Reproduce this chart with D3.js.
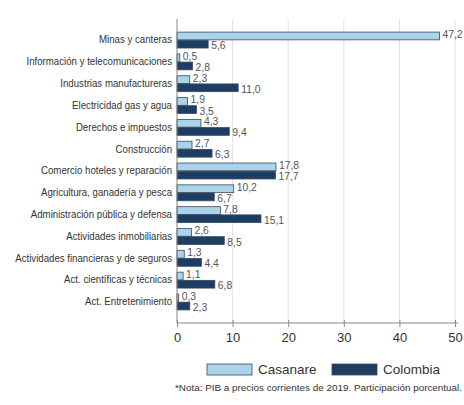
<!DOCTYPE html>
<html><head><meta charset="utf-8">
<script src="https://cdn.jsdelivr.net/npm/d3@7/dist/d3.min.js"></script>
<style>
body{margin:0;background:#fff;}
text{font-family:"Liberation Sans",Arial,sans-serif;}
</style></head>
<body><svg id="c" width="464" height="405"></svg>
<script>
const categories = ["Minas y canteras","Información y telecomunicaciones","Industrias manufactureras","Electricidad gas y agua","Derechos e impuestos","Construcción","Comercio hoteles y reparación","Agricultura, ganadería y pesca","Administración pública y defensa","Actividades inmobiliarias","Actividades financieras y de seguros","Act. científicas y técnicas","Act. Entretenimiento"];
const casanare = [47.2,0.5,2.3,1.9,4.3,2.7,17.8,10.2,7.8,2.6,1.3,1.1,0.3];
const colombia = [5.6,2.8,11.0,3.5,9.4,6.3,17.7,6.7,15.1,8.5,4.4,6.8,2.3];
const xTicks = [0,10,20,30,40,50];
const seriesNames = ["Casanare","Colombia"];
const colors = ["#a9d4ea","#1e3d63"];

const svg = d3.select("#c");
const x = d3.scaleLinear().domain([0,50]).range([177,455]);
const y = d3.scaleBand().domain(categories).range([19,323]).paddingInner(0.27).paddingOuter(0.6);
const sub = d3.scaleBand().domain(seriesNames).range([0,y.bandwidth()]).paddingInner(0.05);

function condense(sel, f){
  sel.each(function(){
    const w = this.getComputedTextLength();
    d3.select(this).attr("textLength", w*f).attr("lengthAdjust","spacingAndGlyphs");
  });
}

// gridlines
svg.append("g").selectAll("line").data(xTicks.slice(1)).join("line")
  .attr("x1",d=>x(d)).attr("x2",d=>x(d)).attr("y1",19).attr("y2",323)
  .attr("stroke","#e4e4e4").attr("stroke-width",1);

const fmt = v => v.toFixed(1).replace(".",",");
const series = [casanare, colombia];
series.forEach((vals,si)=>{
  const g = svg.append("g");
  g.selectAll("rect").data(vals).join("rect")
    .attr("x",x(0)).attr("y",(d,i)=>y(categories[i])+sub(seriesNames[si]))
    .attr("width",d=>x(d)-x(0)).attr("height",sub.bandwidth())
    .attr("fill",colors[si]).attr("stroke","#3a4a5a").attr("stroke-width",0.8);
  const t = g.selectAll("text").data(vals).join("text")
    .attr("x",d=>x(d)+3).attr("y",(d,i)=>y(categories[i])+sub(seriesNames[si])+sub.bandwidth()/2+ (si===0?2:5))
    .attr("font-size",11.5).attr("fill","#555").text(fmt);
  condense(t,0.9);
});

// y axis
const ya = svg.append("g").attr("transform","translate(177,0)")
  .call(d3.axisLeft(y).tickSize(0).tickPadding(5));
ya.select(".domain").attr("stroke","#888").attr("d","M0,19V323");
ya.selectAll("text").attr("font-size",10.5).attr("fill","#333")
  .attr("font-family",'"Liberation Sans",Arial,sans-serif');
condense(ya.selectAll("text"),0.92);

// x axis
const xa = svg.append("g").attr("transform","translate(0,323)")
  .call(d3.axisBottom(x).tickValues(xTicks).tickSizeInner(4).tickSizeOuter(0).tickPadding(6));
xa.select(".domain").attr("stroke","#888").attr("d","M177,0H458");
xa.selectAll(".tick line").attr("stroke","#888").attr("y1",-3);
xa.selectAll("text").attr("font-size",13).attr("fill","#333")
  .attr("font-family",'"Liberation Sans",Arial,sans-serif');

// legend
const leg = svg.append("g");
const lx = [207,332];
seriesNames.forEach((n,i)=>{
  leg.append("rect").attr("x",lx[i]).attr("y",364).attr("width",45).attr("height",11)
    .attr("fill",colors[i]).attr("stroke","#3a4a5a").attr("stroke-width",0.8);
  leg.append("text").attr("x",lx[i]+51).attr("y",374).attr("font-size",13.5).attr("fill","#333").text(n);
});
svg.append("text").attr("x",175).attr("y",391).attr("font-size",9.5).attr("fill","#333")
  .attr("textLength",287).attr("lengthAdjust","spacingAndGlyphs")
  .text("*Nota: PIB a precios corrientes de 2019. Participación porcentual.");
</script></body></html>
